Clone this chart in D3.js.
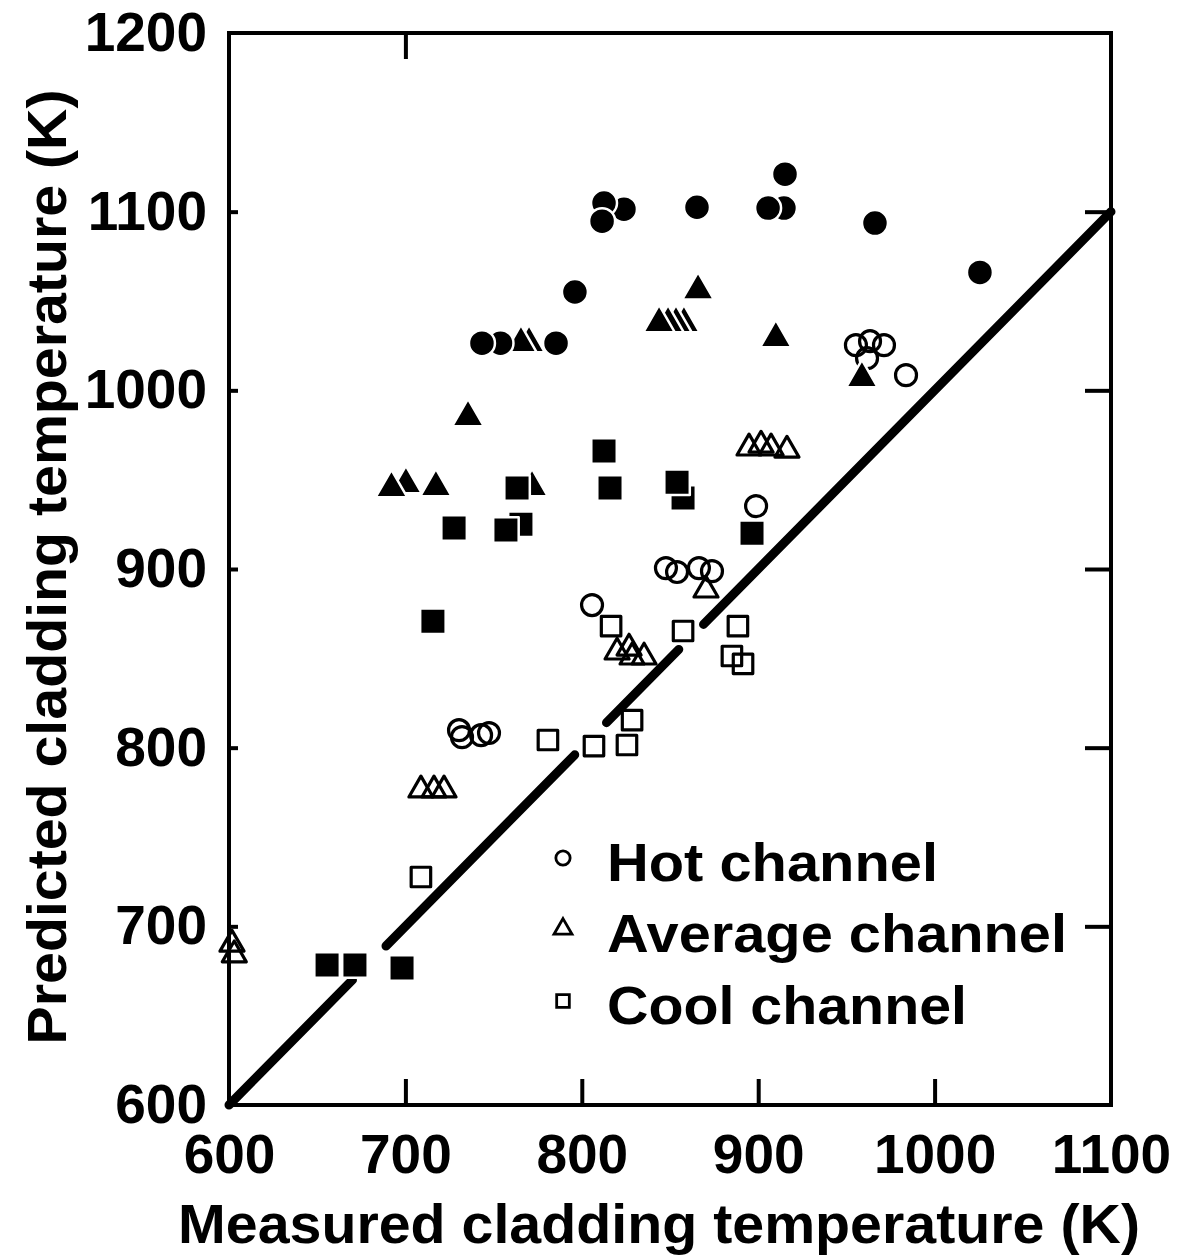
<!DOCTYPE html>
<html><head><meta charset="utf-8">
<script src="https://cdn.jsdelivr.net/npm/d3@7"></script>
<style>body{margin:0;background:#fff}text{font-family:"Liberation Sans",Arial,Helvetica,sans-serif;font-weight:bold;fill:#000}</style></head>
<body><svg id="c" width="1184" height="1257"></svg>
<script>
// ---- data ----
const xTickValues = [600, 700, 800, 900, 1000, 1100];
const yTickValues = [600, 700, 800, 900, 1000, 1100, 1200];
const xTitle = "Measured cladding temperature (K)";
const yTitle = "Predicted cladding temperature (K)";
const legendLabels = ["Hot channel", "Average channel", "Cool channel"];

// Hot channel (open circles)
const hotOpenX = [805.8, 847.7, 854.0, 866.4, 873.8, 898.8, 955.4, 963.4, 971.3, 961.7, 983.8, 730.4, 732.1, 742.9, 747.4];
const hotOpenY = [879.8, 900.5, 898.3, 900.5, 898.8, 935.2, 1025.3, 1027.5, 1025.3, 1018.0, 1008.5, 809.8, 805.9, 807.0, 808.2];
// Average channel (open triangles)
const avgOpenX = [894.8, 901.6, 907.3, 916.3, 870.4, 820.0, 826.8, 828.5, 835.3, 708.8, 716.2, 721.9, 601.7, 603.0];
const avgOpenY = [967.7, 969.3, 967.7, 966.5, 888.2, 853.5, 855.7, 850.7, 850.7, 776.3, 776.3, 776.3, 690.0, 684.0];
// Cool channel (open squares)
const coolOpenX = [816.6, 857.4, 888.5, 885.1, 891.4, 828.5, 806.9, 825.6, 780.8, 708.8];
const coolOpenY = [868.0, 865.3, 868.0, 851.3, 846.9, 815.4, 800.9, 801.5, 804.3, 727.6];
// filled markers
const hotFilledX = [812.6, 811.5, 823.9, 865.3, 905.6, 914.6, 915.2, 966.2, 1025.7, 796.1, 743.4, 753.9, 785.4];
const hotFilledY = [1104.8, 1094.7, 1101.4, 1102.5, 1102.0, 1102.0, 1121.0, 1093.6, 1066.0, 1055.0, 1026.4, 1026.4, 1026.4];
const avgFilledX = [735.5, 692.1, 700.3, 717.3, 771.8, 865.9, 843.8, 848.9, 853.4, 857.9, 910.0, 958.8, 765.5, 770.1];
const avgFilledY = [985.0, 945.3, 947.5, 945.8, 945.8, 1056.0, 1037.6, 1037.6, 1037.6, 1037.6, 1029.2, 1006.8, 1026.4, 1026.4];
const coolFilledX = [812.6, 816.0, 854.0, 857.4, 896.5, 727.6, 757.0, 765.5, 715.6, 655.6, 671.4, 698.1, 763.3];
const coolFilledY = [966.0, 945.3, 948.6, 939.7, 920.0, 922.9, 921.8, 925.1, 870.8, 678.3, 678.3, 676.7, 945.3];
// 1:1 line, drawn in pieces (start x, end x) with gaps around markers
const lineSegStart = [600, 689, 814, 869];
const lineSegEnd = [670, 796, 855, 1100];

// ---- drawing ----
const svg = d3.select("#c");
const x = d3.scaleLinear().domain([600, 1100]).range([229, 1111]);
const y = d3.scaleLinear().domain([600, 1200]).range([1105, 33]);

// frame
svg.append("rect").attr("x", x(600)).attr("y", y(1200))
  .attr("width", x(1100) - x(600)).attr("height", y(600) - y(1200))
  .attr("fill", "none").attr("stroke", "#000").attr("stroke-width", 4);

// inward tick marks
const inner = [700, 800, 900, 1000, 1100];
function styleTicks(g) { g.select(".domain").remove(); g.selectAll("line").attr("stroke", "#000").attr("stroke-width", 4); g.selectAll("text").remove(); }
svg.append("g").attr("transform", `translate(${x(600)},0)`).call(d3.axisLeft(y).tickValues(inner).tickSize(-9)).call(styleTicks);
svg.append("g").attr("transform", `translate(${x(1100)},0)`).call(d3.axisRight(y).tickValues(inner).tickSize(-26)).call(styleTicks);
svg.append("g").attr("transform", `translate(0,${y(600)})`).call(d3.axisBottom(x).tickValues([700, 800, 900, 1000]).tickSize(-26)).call(styleTicks);
svg.append("g").attr("transform", `translate(0,${y(1200)})`).call(d3.axisTop(x).tickValues([700]).tickSize(-26)).call(styleTicks);

// tick labels
function styleLabels(g) { g.select(".domain").remove(); g.selectAll("line").remove(); g.selectAll("text").attr("font-size", 55).attr("fill", "#000"); }
svg.append("g").attr("transform", `translate(${x(600)},0)`).call(d3.axisLeft(y).tickValues(yTickValues).tickFormat(d3.format("d")).tickSize(0).tickPadding(22)).call(styleLabels);
svg.append("g").attr("transform", `translate(0,${y(600)})`).call(d3.axisBottom(x).tickValues(xTickValues).tickFormat(d3.format("d")).tickSize(0).tickPadding(29)).call(styleLabels);

// axis titles
svg.append("text").attr("x", 659).attr("y", 1243).attr("text-anchor", "middle").attr("font-size", 56)
  .attr("textLength", 962).attr("lengthAdjust", "spacingAndGlyphs").text(xTitle);
svg.append("text").attr("transform", "translate(66,567) rotate(-90)").attr("text-anchor", "middle").attr("font-size", 56)
  .attr("textLength", 955).attr("lengthAdjust", "spacingAndGlyphs").text(yTitle);

// 1:1 line
svg.append("g").selectAll("line").data(d3.range(lineSegStart.length)).join("line")
  .attr("x1", i => x(lineSegStart[i])).attr("y1", i => y(lineSegStart[i]))
  .attr("x2", i => x(lineSegEnd[i])).attr("y2", i => y(lineSegEnd[i]))
  .attr("stroke", "#000").attr("stroke-width", 9).attr("stroke-linecap", "round");

// markers
const openSize = {circle: 345, triangle: 250, square: 380};
const filledSize = {circle: 530, triangle: 430, square: 650};
const symType = {circle: d3.symbolCircle, triangle: d3.symbolTriangle, square: d3.symbolSquare};
function pts(xs, ys, shape) { return xs.map((v, i) => ({x: v, y: ys[i], shape})); }

const openPts = [].concat(pts(hotOpenX, hotOpenY, "circle"), pts(avgOpenX, avgOpenY, "triangle"), pts(coolOpenX, coolOpenY, "square"));
svg.append("g").selectAll("path").data(openPts).join("path")
  .attr("transform", d => `translate(${x(d.x)},${y(d.y)})`)
  .attr("d", d => d3.symbol(symType[d.shape], openSize[d.shape])())
  .attr("fill", "none").attr("stroke", "#000").attr("stroke-width", 3.2).attr("stroke-linejoin", "round");

const filledPts = [].concat(pts(hotFilledX, hotFilledY, "circle"), pts(avgFilledX, avgFilledY, "triangle"), pts(coolFilledX, coolFilledY, "square"))
  .sort((a, b) => b.x - a.x);
svg.append("g").selectAll("path").data(filledPts).join("path")
  .attr("transform", d => `translate(${x(d.x)},${y(d.y)})`)
  .attr("d", d => d3.symbol(symType[d.shape], filledSize[d.shape])())
  .attr("fill", "#000").attr("stroke", "#fff").attr("stroke-width", 2.5).attr("stroke-linejoin", "round");

// legend
const legendShapes = ["circle", "triangle", "square"];
const legendSizes = [160, 140, 160];
const legendY = [862, 933, 1005];
const legendW = [331, 460, 360];
const lg = svg.append("g");
legendLabels.forEach((lab, i) => {
  lg.append("path").attr("transform", `translate(563,${legendY[i] - 4})`)
    .attr("d", d3.symbol(symType[legendShapes[i]], legendSizes[i])())
    .attr("fill", "none").attr("stroke", "#000").attr("stroke-width", 2.8);
  lg.append("text").attr("x", 607).attr("y", legendY[i] + 19).attr("font-size", 53)
    .attr("textLength", legendW[i]).attr("lengthAdjust", "spacingAndGlyphs").text(lab);
});
</script></body></html>
